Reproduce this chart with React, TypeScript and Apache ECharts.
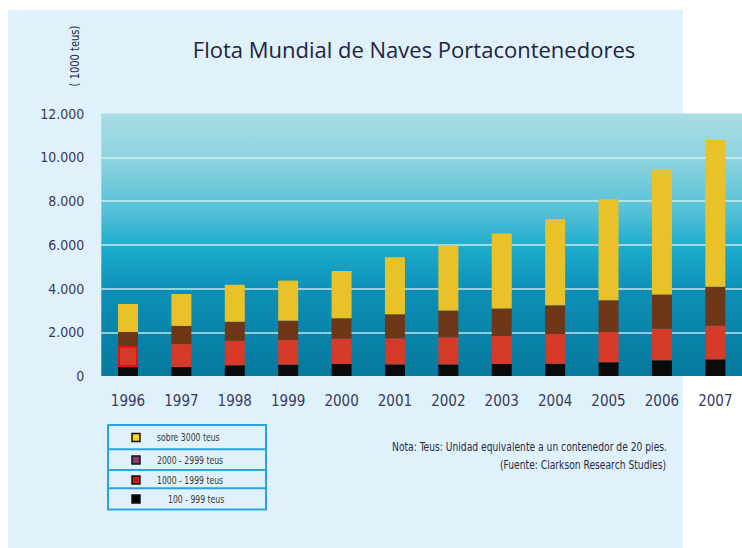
import React, { useEffect, useRef } from "react";
import * as echarts from "echarts";

const years = ["1996", "1997", "1998", "1999", "2000", "2001", "2002", "2003", "2004", "2005", "2006", "2007"];
// '000 teus per size class
const teus100_999 = [410, 410, 490, 520, 550, 530, 530, 550, 560, 630, 720, 760];
const teus1000_1999 = [960, 1050, 1120, 1130, 1160, 1190, 1240, 1280, 1360, 1380, 1440, 1540];
const teus2000_2999 = [640, 830, 870, 880, 930, 1100, 1220, 1260, 1310, 1450, 1570, 1780];
const teusSobre3000 = [1280, 1460, 1690, 1830, 2160, 2610, 2980, 3430, 3950, 4620, 5690, 6710];
const legendLabels = ["sobre 3000 teus", "2000 - 2999 teus", "1000 - 1999 teus", "100 - 999 teus"];
const legendColors = ["#ffd21a", "#8b3a6b", "#cc1818", "#000000"];

const NARROW = "'DejaVu Sans Condensed', sans-serif";

function fmt(v: number): string {
  if (v === 0) return "0";
  const s = String(v);
  return s.slice(0, s.length - 3) + "." + s.slice(s.length - 3);
}

export default function App() {
  const ref = useRef<HTMLDivElement>(null);
  useEffect(() => {
    if (!ref.current) return;
    const chart = echarts.init(ref.current, null, { renderer: "svg" });
    const rowY = [437.5, 460, 480, 499];
    const rowTextX = [157, 157, 157, 168];
    const legendGraphics: any[] = [];
    legendLabels.forEach((lab, i) => {
      legendGraphics.push({
        type: "rect",
        shape: { x: 132, y: rowY[i] - 4, width: 8, height: 8 },
        style: { fill: legendColors[i], stroke: "#111", lineWidth: 1.5 },
      });
      legendGraphics.push({
        type: "text",
        x: rowTextX[i],
        y: rowY[i],
        scaleX: 0.78,
        style: {
          text: lab,
          fill: "#3a3830",
          font: `11px ${NARROW}`,
          align: "left",
          verticalAlign: "middle",
        },
      });
    });
    const option: any = {
      animation: false,
      backgroundColor: "#ffffff",
      grid: {
        left: 101.3,
        top: 113.5,
        width: 651.6,
        bottom: 172,
        show: true,
        borderWidth: 0,
        backgroundColor: {
          type: "linear",
          x: 0,
          y: 0,
          x2: 0,
          y2: 1,
          colorStops: [
            { offset: 0, color: "#a9dde5" },
            { offset: 0.18, color: "#8cd3df" },
            { offset: 0.38, color: "#52c0d7" },
            { offset: 0.52, color: "#1aaacc" },
            { offset: 0.68, color: "#0c8fb6" },
            { offset: 1, color: "#07799e" },
          ],
        },
      },
      graphic: [
        {
          type: "rect",
          z: -10,
          shape: { x: 8, y: 10, width: 675, height: 538 },
          style: { fill: "#dff1fb" },
        },
        {
          type: "text",
          x: 414,
          y: 49,
          style: {
            text: "Flota Mundial de Naves Portacontenedores",
            fill: "#23233f",
            font: "22px 'Open Sans', sans-serif",
            align: "center",
            verticalAlign: "middle",
          },
        },
        {
          type: "text",
          x: 75,
          y: 56,
          rotation: Math.PI / 2,
          scaleX: 0.85,
          style: {
            text: "( 1000 teus)",
            fill: "#2a2a40",
            font: `13px ${NARROW}`,
            align: "center",
            verticalAlign: "middle",
          },
        },
        {
          type: "rect",
          shape: { x: 108, y: 425, width: 158, height: 84.5 },
          style: { fill: "none", stroke: "#2aa3e0", lineWidth: 2 },
        },
        { type: "line", shape: { x1: 108, y1: 449.3, x2: 266, y2: 449.3 }, style: { stroke: "#2aa3e0", lineWidth: 2 } },
        { type: "line", shape: { x1: 108, y1: 470, x2: 266, y2: 470 }, style: { stroke: "#2aa3e0", lineWidth: 2 } },
        { type: "line", shape: { x1: 108, y1: 488.3, x2: 266, y2: 488.3 }, style: { stroke: "#2aa3e0", lineWidth: 2 } },
        ...legendGraphics,
        {
          type: "text",
          x: 667,
          y: 447,
          scaleX: 0.85,
          style: {
            text: "Nota: Teus: Unidad equivalente a un contenedor de 20 pies.",
            fill: "#2a2a3e",
            font: `12px ${NARROW}`,
            align: "right",
            verticalAlign: "middle",
          },
        },
        {
          type: "text",
          x: 666,
          y: 465,
          scaleX: 0.85,
          style: {
            text: "(Fuente: Clarkson Research Studies)",
            fill: "#2a2a3e",
            font: `12px ${NARROW}`,
            align: "right",
            verticalAlign: "middle",
          },
        },
      ],
      xAxis: {
        type: "category",
        data: years,
        axisLine: { show: false },
        axisTick: { show: false },
        axisLabel: {
          color: "#3a3a5c",
          fontSize: 15,
          fontFamily: NARROW,
          margin: 17,
        },
      },
      yAxis: {
        type: "value",
        min: 0,
        max: 12000,
        interval: 2000,
        axisLine: { show: false },
        axisTick: { show: false },
        axisLabel: {
          color: "#3a3a5c",
          fontSize: 14,
          fontFamily: NARROW,
          margin: 17,
          formatter: (v: number) => fmt(v),
        },
        splitLine: {
          showMinLine: false,
          showMaxLine: false,
          lineStyle: { color: "rgba(225,243,247,0.85)", width: 1.5 },
        },
      },
      series: [
        {
          name: "100 - 999 teus",
          type: "bar",
          stack: "t",
          barWidth: 20,
          data: teus100_999,
          itemStyle: { color: "#0b0b0b" },
        },
        {
          name: "1000 - 1999 teus",
          type: "bar",
          stack: "t",
          barWidth: 20,
          data: teus1000_1999.map((v, i) =>
            i === 0 ? { value: v, itemStyle: { borderColor: "#e81010", borderWidth: 2 } } : v
          ),
          itemStyle: { color: "#d63a28" },
        },
        {
          name: "2000 - 2999 teus",
          type: "bar",
          stack: "t",
          barWidth: 20,
          data: teus2000_2999,
          itemStyle: { color: "#6e3818" },
        },
        {
          name: "sobre 3000 teus",
          type: "bar",
          stack: "t",
          barWidth: 20,
          data: teusSobre3000,
          itemStyle: { color: "#e9c22a" },
        },
      ],
    };
    chart.setOption(option);
    return () => chart.dispose();
  }, []);
  return (
    <div
      ref={ref}
      style={{ position: "absolute", left: 0, top: 0, width: 742, height: 548 }}
    />
  );
}
